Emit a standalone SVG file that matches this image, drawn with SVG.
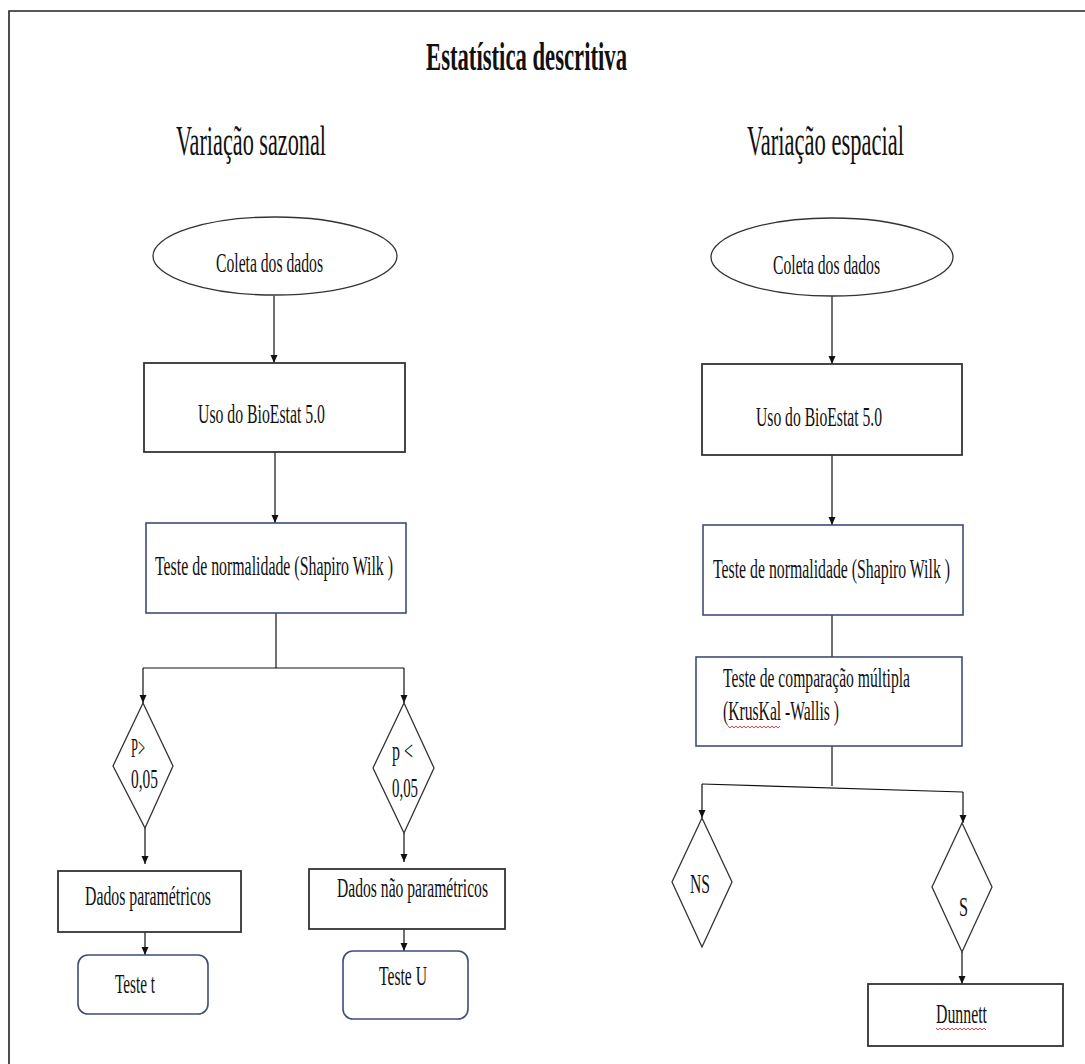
<svg xmlns="http://www.w3.org/2000/svg" width="1085" height="1064" viewBox="0 0 1085 1064">
<defs>
<marker id="arr" viewBox="0 0 8 10" refX="8" refY="5" markerWidth="8" markerHeight="10" markerUnits="userSpaceOnUse" orient="auto">
<path d="M0,1.5 L8,5 L0,8.5 Z" fill="#111"/>
</marker>
<style>
text{font-family:"Liberation Serif","Times New Roman",serif;fill:#111;font-size:28px}
.t{font-weight:bold;font-size:40px}
.h{font-size:42px}
.box{fill:#fff;stroke:#333;stroke-width:1.8}
.blue{fill:#fff;stroke:#3f4d78;stroke-width:1.6}
.dia{fill:#fff;stroke:#333;stroke-width:1.3}
.ln{stroke:#111;stroke-width:1.2;fill:none}
.arw{stroke:#111;stroke-width:1.2;fill:none;marker-end:url(#arr)}
.sq{stroke:#e03030;stroke-width:0.9;fill:none}
</style>
</defs>
<rect width="1085" height="1064" fill="#fff"/>
<g id="frame">
<path d="M9,1064 L9,11 L1085,11" fill="none" stroke="#222" stroke-width="1.6"/>
</g>
<g id="titles">
<text class="t" x="426" y="70" textLength="201" lengthAdjust="spacingAndGlyphs">Estatística descritiva</text>
<text class="h" x="176" y="155" textLength="150" lengthAdjust="spacingAndGlyphs">Variação sazonal</text>
<text class="h" x="747" y="155" textLength="157" lengthAdjust="spacingAndGlyphs">Variação espacial</text>
</g>
<g id="connectors">
<path class="arw" d="M274,296 V363"/>
<path class="arw" d="M275,452 V523"/>
<path class="ln" d="M276,613 V668"/>
<path class="ln" d="M143,668 H404"/>
<path class="arw" d="M143,668 V703"/>
<path class="arw" d="M404,668 V703"/>
<path class="arw" d="M145,828 V864"/>
<path class="arw" d="M404,833 V862"/>
<path class="arw" d="M145,923 V955"/>
<path class="arw" d="M404,918 V951"/>
<path class="arw" d="M832,296 V364"/>
<path class="arw" d="M832,455 V525"/>
<path class="ln" d="M832,615 V657"/>
<path class="ln" d="M832,746 V786"/>
<path class="ln" d="M702,784 L963,792" stroke-width="1.8"/>
<path class="arw" d="M702,784 V818"/>
<path class="arw" d="M963,792 V823"/>
<path class="arw" d="M962,952 V984"/>
</g>
<g id="left-coleta">
<ellipse class="dia" cx="275" cy="256" rx="122" ry="39"/>
<text x="216" y="272" textLength="107" lengthAdjust="spacingAndGlyphs">Coleta dos dados</text>
</g>
<g id="left-bioestat">
<rect class="box" x="144" y="363" width="261" height="89"/>
<text x="198" y="423" textLength="127" lengthAdjust="spacingAndGlyphs">Uso do BioEstat 5.0</text>
</g>
<g id="left-normalidade">
<rect class="blue" x="146" y="523" width="260" height="90"/>
<text x="155" y="575" textLength="238" lengthAdjust="spacingAndGlyphs">Teste de normalidade  (Shapiro Wilk )</text>
</g>
<g id="left-pmaior">
<polygon class="dia" points="143,703 173,766 145,828 113,766"/>
<text x="131" y="757" font-size="15" textLength="14" lengthAdjust="spacingAndGlyphs">P&gt;</text>
<text x="131" y="788" textLength="27" lengthAdjust="spacingAndGlyphs">0,05</text>
</g>
<g id="left-pmenor">
<polygon class="dia" points="404,703 434,768 404,833 373,768"/>
<text x="392" y="760" textLength="21" lengthAdjust="spacingAndGlyphs">p &lt;</text>
<text x="392" y="797" textLength="26" lengthAdjust="spacingAndGlyphs">0,05</text>
</g>
<g id="left-parametricos">
<rect class="box" x="58" y="871" width="183" height="61"/>
<text x="85" y="905" textLength="126" lengthAdjust="spacingAndGlyphs">Dados paramétricos</text>
</g>
<g id="left-naoparametricos">
<rect class="box" x="309" y="869" width="196" height="60"/>
<text x="337" y="897" textLength="151" lengthAdjust="spacingAndGlyphs">Dados não paramétricos</text>
</g>
<g id="left-testet">
<rect class="blue" x="78" y="955" width="130" height="59" rx="10"/>
<text x="115" y="993" textLength="40" lengthAdjust="spacingAndGlyphs">Teste t</text>
</g>
<g id="left-testeu">
<rect class="blue" x="343" y="951" width="125" height="68" rx="10"/>
<text x="379" y="985" textLength="48" lengthAdjust="spacingAndGlyphs">Teste U</text>
</g>
<g id="right-coleta">
<ellipse class="dia" cx="832" cy="257" rx="121" ry="39"/>
<text x="773" y="274" textLength="107" lengthAdjust="spacingAndGlyphs">Coleta dos dados</text>
</g>
<g id="right-bioestat">
<rect class="box" x="702" y="364" width="260" height="91"/>
<text x="756" y="426" textLength="126" lengthAdjust="spacingAndGlyphs">Uso do BioEstat 5.0</text>
</g>
<g id="right-normalidade">
<rect class="blue" x="703" y="525" width="260" height="90"/>
<text transform="translate(713,578) scale(0.6,1)" x="0" y="0" textLength="395" lengthAdjust="spacingAndGlyphs">Teste de normalidade  (Shapiro Wilk )</text>
</g>
<g id="right-kruskal">
<rect class="blue" x="696" y="657" width="266" height="89"/>
<text x="723" y="687" textLength="187" lengthAdjust="spacingAndGlyphs">Teste de comparação múltipla</text>
<text x="723" y="720" textLength="116" lengthAdjust="spacingAndGlyphs">(KrusKal -Wallis )</text>
<path class="sq" d="M728,726 l2,2 l2,-2 l2,2 l2,-2 l2,2 l2,-2 l2,2 l2,-2 l2,2 l2,-2 l2,2 l2,-2 l2,2 l2,-2 l2,2 l2,-2 l2,2 l2,-2 l2,2 l2,-2 l2,2 l2,-2 l2,2 l2,-2 l2,2 l2,-2"/>
</g>
<g id="right-ns">
<polygon class="dia" points="702,818 732,882 702,947 672,882"/>
<text x="690" y="893" textLength="20" lengthAdjust="spacingAndGlyphs">NS</text>
</g>
<g id="right-s">
<polygon class="dia" points="962,823 992,887 962,952 932,887"/>
<text x="959" y="916" textLength="9" lengthAdjust="spacingAndGlyphs">S</text>
</g>
<g id="right-dunnett">
<rect class="box" x="868" y="984" width="195" height="62"/>
<text x="936" y="1023" textLength="51" lengthAdjust="spacingAndGlyphs">Dunnett</text>
<path class="sq" d="M936,1028 l2,2 l2,-2 l2,2 l2,-2 l2,2 l2,-2 l2,2 l2,-2 l2,2 l2,-2 l2,2 l2,-2 l2,2 l2,-2 l2,2 l2,-2 l2,2 l2,-2 l2,2 l2,-2 l2,2 l2,-2 l2,2 l2,-2 l2,2"/>
</g>
</svg>
